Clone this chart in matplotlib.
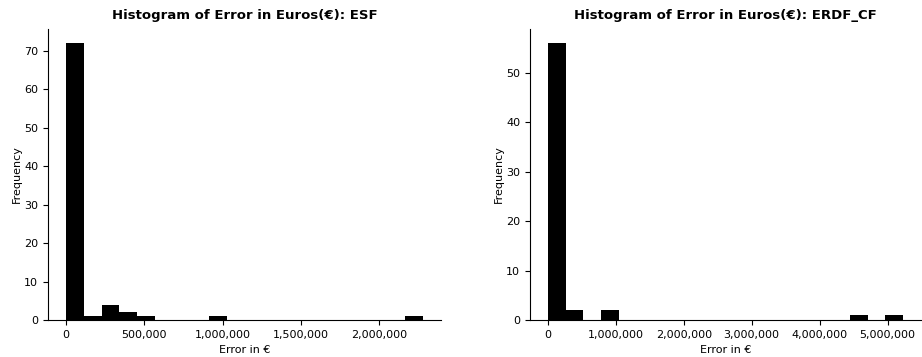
import numpy as np
import matplotlib
matplotlib.use("Agg")
import matplotlib.pyplot as plt
from matplotlib.ticker import FuncFormatter

# ESF histogram (20 bins)
esf_min = 0
esf_max = 2280000
esf_counts = [72, 1, 4, 2, 1, 0, 0, 0, 1, 0, 0, 0, 0, 0, 0, 0, 0, 0, 0, 1]

# ERDF_CF histogram (20 bins)
erdf_min = 0
erdf_max = 5230000
erdf_counts = [56, 2, 0, 2, 0, 0, 0, 0, 0, 0, 0, 0, 0, 0, 0, 0, 0, 1, 0, 1]

titles = ["Histogram of Error in Euros(€): ESF", "Histogram of Error in Euros(€): ERDF_CF"]

fig = plt.figure(figsize=(9.22, 3.57), dpi=100)
ax1 = fig.add_axes([48/922, 1 - 320/357, (441 - 48)/922, (320 - 29)/357])
ax2 = fig.add_axes([530/922, 1 - 320/357, (921 - 530)/922, (320 - 29)/357])

fmt = FuncFormatter(lambda v, p: f"{int(v):,}")

for ax, lo, hi, counts, title in [(ax1, esf_min, esf_max, esf_counts, titles[0]),
                                  (ax2, erdf_min, erdf_max, erdf_counts, titles[1])]:
    edges = np.linspace(lo, hi, len(counts) + 1)
    ax.hist(edges[:-1], bins=edges, weights=counts, color="black")
    ax.set_title(title, fontsize=9.5, fontweight="bold", pad=7)
    ax.set_xlabel("Error in €", fontsize=8)
    ax.set_ylabel("Frequency", fontsize=8, labelpad=2)
    ax.tick_params(labelsize=8)
    ax.xaxis.set_major_formatter(fmt)
    ax.spines["top"].set_visible(False)
    ax.spines["right"].set_visible(False)

fig.savefig("out.png", dpi=100)
